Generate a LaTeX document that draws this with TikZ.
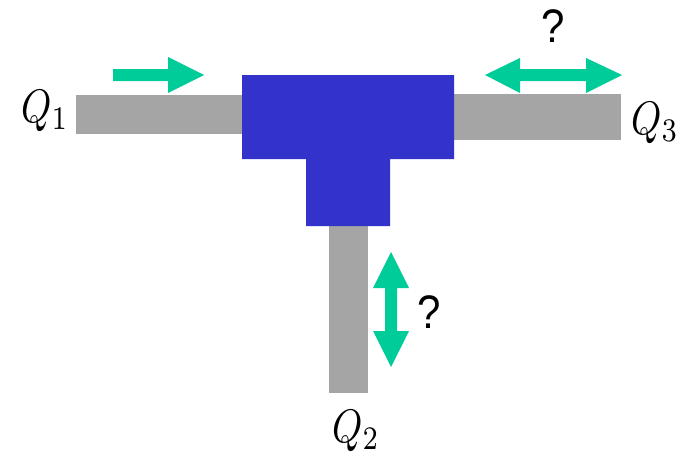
\documentclass[tikz,border=0pt]{standalone}
\usepackage{fontspec}
\setsansfont{Liberation Sans}
\definecolor{pipegray}{HTML}{A5A5A5}
\definecolor{teeblue}{HTML}{3333CC}
\definecolor{flowgreen}{HTML}{00CC99}
\newcommand{\qtext}[1]{\scalebox{3.85}[4.7]{$Q_{#1}$}}
\newcommand{\qmarktext}{\scalebox{1}[1.12]{?}}
\tikzset{
  pipe/.style={fill=pipegray,draw=none},
  tee/.style={fill=teeblue,draw=none},
  flow/.style={fill=flowgreen,draw=none},
  qlabel/.style={inner sep=0pt,text=black},
  qmark/.style={inner sep=0pt,font=\sffamily\fontsize{42}{44}\selectfont,text=black}
}
\begin{document}
\begin{tikzpicture}[x=1pt,y=-1pt]
\useasboundingbox (0,0) rectangle (687,455);
% pipes
\fill[pipe] (76,95) rectangle (243,134);
\fill[pipe] (454,94) rectangle (621,140);
\fill[pipe] (329,226) rectangle (368,393);
% tee
\fill[tee] (242,75) -- (454,75) -- (454,159) -- (390,159) -- (390,226) -- (306,226) -- (306,159) -- (242,159) -- cycle;
% arrows
\fill[flow] (113,69) -- (168,69) -- (168,57) -- (204,75) -- (168,93) -- (168,81) -- (113,81) -- cycle;
\fill[flow] (485,75) -- (520,58) -- (520,69) -- (586,69) -- (586,58) -- (622,75) -- (586,93) -- (586,81) -- (520,81) -- (520,93) -- cycle;
\fill[flow] (391,252) -- (409,288) -- (397,288) -- (397,331) -- (409,331) -- (391,367) -- (373,331) -- (385,331) -- (385,288) -- (373,288) -- cycle;
% labels
\node[qlabel] (q1) at (45,111) {\qtext{1}};
\node[qlabel] (q3) at (655,123) {\qtext{3}};
\node[qlabel] (q2) at (356,431) {\qtext{2}};
\node[qmark] (m3) at (553.5,26) {\qmarktext};
\node[qmark] (m2) at (429,312) {\qmarktext};
\end{tikzpicture}
\end{document}
